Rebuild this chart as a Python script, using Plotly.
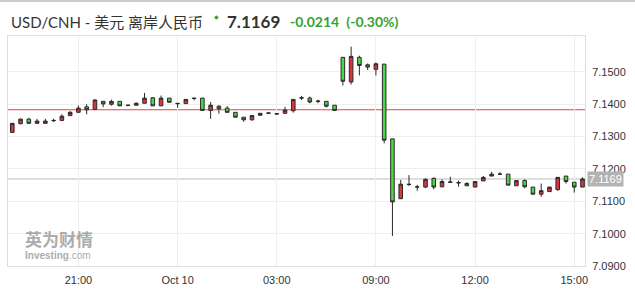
import plotly.graph_objects as go

idx = list(range(70))
opens = [7.1313, 7.1340, 7.1354, 7.1341, 7.1341, 7.1349, 7.1350, 7.1365, 7.1375, 7.1392,
         7.1384, 7.1409, 7.1400, 7.1409, 7.1396, 7.1397, 7.1403, 7.1420, 7.1395, 7.1419,
         7.1403, 7.1402, 7.1419, 7.1419, 7.1381, 7.1394, 7.1388, 7.1375, 7.1360, 7.1352,
         7.1366, 7.1372, 7.1371, 7.1372, 7.1380, 7.1419, 7.1419, 7.1410, 7.1409, 7.1397,
         7.1545, 7.1469, 7.1545, 7.1522, 7.1508, 7.1524, 7.1293, 7.1108, 7.1153, 7.1145,
         7.1144, 7.1171, 7.1145, 7.1160, 7.1158, 7.1155, 7.1144, 7.1163, 7.1178, 7.1184,
         7.1184, 7.1148, 7.1164, 7.1144, 7.1122, 7.1130, 7.1136, 7.1178, 7.1159, 7.1144]
highs = [7.1341, 7.1356, 7.1358, 7.1355, 7.1355, 7.1355, 7.1369, 7.1379, 7.1396, 7.1400,
         7.1416, 7.1409, 7.1414, 7.1409, 7.1399, 7.1406, 7.1435, 7.1422, 7.1427, 7.1419,
         7.1403, 7.1415, 7.1419, 7.1419, 7.1407, 7.1397, 7.1394, 7.1375, 7.1360, 7.1365,
         7.1372, 7.1374, 7.1373, 7.1392, 7.1415, 7.1426, 7.1424, 7.1414, 7.1409, 7.1397,
         7.1545, 7.1578, 7.1550, 7.1526, 7.1529, 7.1524, 7.1293, 7.1166, 7.1181, 7.1151,
         7.1171, 7.1174, 7.1168, 7.1176, 7.1164, 7.1159, 7.1161, 7.1178, 7.1191, 7.1190,
         7.1184, 7.1164, 7.1168, 7.1144, 7.1155, 7.1144, 7.1174, 7.1178, 7.1159, 7.1174]
lows = [7.1313, 7.1338, 7.1340, 7.1341, 7.1341, 7.1345, 7.1350, 7.1365, 7.1375, 7.1369,
        7.1384, 7.1391, 7.1396, 7.1395, 7.1395, 7.1397, 7.1403, 7.1395, 7.1395, 7.1406,
        7.1389, 7.1402, 7.1412, 7.1381, 7.1355, 7.1371, 7.1375, 7.1360, 7.1346, 7.1349,
        7.1366, 7.1372, 7.1368, 7.1372, 7.1374, 7.1413, 7.1403, 7.1403, 7.1390, 7.1381,
        7.1458, 7.1461, 7.1489, 7.1506, 7.1489, 7.1279, 7.0993, 7.1108, 7.1147, 7.1133,
        7.1141, 7.1137, 7.1143, 7.1159, 7.1145, 7.1148, 7.1144, 7.1163, 7.1178, 7.1183,
        7.1150, 7.1148, 7.1140, 7.1122, 7.1114, 7.1130, 7.1133, 7.1155, 7.1127, 7.1144]
closes = [7.1341, 7.1354, 7.1341, 7.1348, 7.1348, 7.1350, 7.1363, 7.1375, 7.1388, 7.1383,
          7.1413, 7.1401, 7.1409, 7.1395, 7.1397, 7.1403, 7.1419, 7.1395, 7.1419, 7.1406,
          7.1402, 7.1415, 7.1418, 7.1381, 7.1397, 7.1386, 7.1375, 7.1360, 7.1352, 7.1365,
          7.1372, 7.1373, 7.1370, 7.1382, 7.1415, 7.1420, 7.1407, 7.1409, 7.1394, 7.1381,
          7.1471, 7.1548, 7.1520, 7.1515, 7.1525, 7.1289, 7.1098, 7.1153, 7.1152, 7.1144,
          7.1168, 7.1144, 7.1161, 7.1159, 7.1157, 7.1148, 7.1161, 7.1174, 7.1184, 7.1184,
          7.1150, 7.1164, 7.1145, 7.1122, 7.1133, 7.1144, 7.1174, 7.1161, 7.1144, 7.1169]

tick_pos = [8, 20, 32, 44, 56, 68]
tick_text = ["21:00", "Oct 10", "03:00", "09:00", "12:00", "15:00"]
y_ticks = [7.09, 7.10, 7.11, 7.12, 7.13, 7.14, 7.15]
prev_close = 7.1383
last_price = 7.1169

W, H = 635, 305
L, R, T, B = 8, 585, 36, 266


def px(x):
    return (x - L) / (R - L)


def py(y):
    return (B - y) / (B - T)


fig = go.Figure()
fig.add_trace(go.Candlestick(
    x=idx, open=opens, high=highs, low=lows, close=closes,
    increasing=dict(line=dict(color="#2a2a2a", width=1), fillcolor="#d8363f"),
    decreasing=dict(line=dict(color="#2a2a2a", width=1), fillcolor="#4cd646"),
    whiskerwidth=0, hoverinfo="skip", showlegend=False,
))

fig.add_shape(type="line", xref="paper", yref="y", x0=0, x1=1, y0=prev_close, y1=prev_close,
              line=dict(color="#d9474c", width=1), layer="below")
fig.add_shape(type="line", xref="paper", yref="y", x0=0, x1=1, y0=last_price, y1=last_price,
              line=dict(color="#bdbdbd", width=1), layer="below")
fig.add_shape(type="line", xref="paper", yref="paper", x0=px(0), x1=px(W), y0=py(1), y1=py(1),
              line=dict(color="#cccccc", width=2))

fig.add_annotation(xref="paper", yref="y", x=px(587), y=last_price, xanchor="left", yanchor="middle",
                   text="7.1169", showarrow=False, bgcolor="#b3b3b3", borderpad=1,
                   font=dict(family="Liberation Sans, Arial", size=11, color="#ffffff"))

title_font = "Lato, Noto Sans CJK SC, sans-serif"
fig.add_annotation(xref="paper", yref="paper", x=px(9), y=py(22), xanchor="left", yanchor="middle",
                   text="USD/CNH - 美元 离岸人民币", showarrow=False,
                   font=dict(family=title_font, size=15, color="#333333"))
fig.add_annotation(xref="paper", yref="paper", x=px(212), y=py(16), xanchor="left", yanchor="middle",
                   text="◆", showarrow=False, font=dict(family="DejaVu Sans", size=6, color="#2fa82f"))
fig.add_annotation(xref="paper", yref="paper", x=px(225), y=py(22), xanchor="left", yanchor="middle",
                   text="<b>7.1169</b>", showarrow=False,
                   font=dict(family=title_font, size=17, color="#333333"))
fig.add_annotation(xref="paper", yref="paper", x=px(288), y=py(22), xanchor="left", yanchor="middle",
                   text="<b>-0.0214</b>  <b>(-0.30%)</b>", showarrow=False,
                   font=dict(family=title_font, size=14, color="#34a32f"))

fig.add_annotation(xref="paper", yref="paper", x=px(23), y=py(238), xanchor="left", yanchor="middle",
                   text="<b>英为财情</b>", showarrow=False, opacity=0.55,
                   font=dict(family="Noto Sans CJK SC", size=17, color="#6a6a6a"))
fig.add_annotation(xref="paper", yref="paper", x=px(23), y=py(255), xanchor="left", yanchor="middle",
                   text="<b>Investing</b>.com", showarrow=False, opacity=0.55,
                   font=dict(family="Liberation Sans, Arial", size=10, color="#6a6a6a"))

fig.update_layout(
    width=W, height=H,
    margin=dict(l=L, r=W - R, t=T, b=H - B),
    paper_bgcolor="#ffffff", plot_bgcolor="#ffffff",
    boxgap=0.38,
    font=dict(family="Liberation Sans, Arial", size=11, color="#333333"),
    xaxis=dict(range=[-0.52, 69.3], rangeslider=dict(visible=False),
               tickmode="array", tickvals=tick_pos, ticktext=tick_text,
               showgrid=True, gridcolor="#efefef", gridwidth=1,
               showline=True, linecolor="#dddddd", mirror=True,
               ticks="outside", ticklen=4, tickcolor="rgba(0,0,0,0)",
               zeroline=False, fixedrange=True),
    yaxis=dict(range=[7.09, 7.1611], side="right", tickmode="array", tickvals=y_ticks,
               tickformat=".4f", showgrid=True, gridcolor="#efefef", gridwidth=1,
               showline=True, linecolor="#dddddd", mirror=True,
               ticks="outside", ticklen=4, tickcolor="rgba(0,0,0,0)",
               zeroline=False, fixedrange=True),
)

fig.write_html("out.html", config={"displayModeBar": False})
